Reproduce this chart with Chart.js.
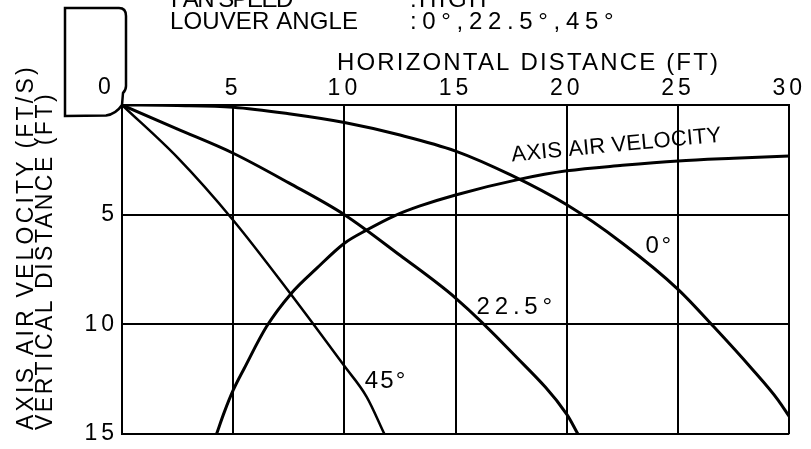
<!DOCTYPE html>
<html lang="en">
<head>
<meta charset="UTF-8">
<title>Louver angle air throw</title>
<script src="https://cdn.jsdelivr.net/npm/chart.js"></script>
<style>
  body { margin: 0; background: #fff; }
  #wrap { width: 811px; height: 449px; position: relative; }
</style>
</head>
<body>
<div id="wrap"><canvas id="myChart"></canvas></div>
<script>
// horizontal distance (ft) -> vertical drop (ft), one pair per louver angle
const dist0 = [0, 2.5, 5, 7.5, 10, 12.5, 15, 17.5, 20, 22.5, 25, 26.6, 28.3, 29.5, 30];
const drop0 = [0, 0.02, 0.1, 0.4, 0.8, 1.37, 2.1, 3.2, 4.55, 6.3, 8.4, 10.1, 12.0, 13.45, 14.2];
const dist22 = [0, 2.5, 5, 7.5, 10, 12.5, 15, 17.5, 20, 20.5];
const drop22 = [0, 1.1, 2.2, 3.55, 5.0, 6.85, 8.8, 11.25, 14.1, 15];
const dist45 = [0, 2.5, 5, 7.5, 10, 11, 11.8];
const drop45 = [0, 2.4, 5.25, 8.5, 11.9, 13.3, 15];
// axis air velocity (ft/s) against horizontal distance (ft)
const velDist = [4.25, 4.6, 5, 5.5, 6.5, 7.6, 8.75, 10, 11, 12.25, 13.4, 15, 17.9, 20, 22.5, 25, 27.5, 30];
const velocity = [15, 14, 13, 12, 10.1, 8.6, 7.45, 6.3, 5.7, 5.05, 4.6, 4.1, 3.38, 3.0, 2.75, 2.55, 2.43, 2.33];

const xTickValues = [0, 5, 10, 15, 20, 25, 30];
const yTickValues = [0, 5, 10, 15];
const angleNames = ['0°', '22.5°', '45°'];
const velocityName = 'AXIS AIR VELOCITY';

// where the curve captions sit, in data units
const captionPos = [
    {x: 24.1, y: 6.37, w: 25},
    {x: 17.65, y: 9.12, w: 74},
    {x: 11.81, y: 12.5, w: 40}
];
const velocityCaptionPos = {x: 22.23, y: 1.76, w: 211, angle: -5.4};

const FONT = '"Liberation Sans", Arial, sans-serif';

function pts(xs, ys) {
    return xs.map((x, i) => ({x: x, y: ys[i]}));
}

// draw text so its ink spans exactly `width` px, starting at x
function fitText(ctx, text, x, y, width) {
    ctx.letterSpacing = '0px';
    const m = ctx.measureText(text);
    const ink = m.actualBoundingBoxRight + m.actualBoundingBoxLeft;
    const n = [...text].length;
    const sp = n > 1 ? (width - ink) / (n - 1) : 0;
    ctx.letterSpacing = sp + 'px';
    ctx.fillText(text, x + m.actualBoundingBoxLeft, y);
}

const decorations = {
    id: 'decorations',
    beforeLayout(chart) {
        chart.ctx.letterSpacing = '4px';
    },
    beforeDraw(chart) {
        chart.ctx.letterSpacing = '4px';
    },
    afterDraw(chart) {
        const ctx = chart.ctx;
        const xs = chart.scales.x;
        const ys = chart.scales.y;
        const ox = xs.getPixelForValue(0);
        const oy = ys.getPixelForValue(0);

        ctx.save();
        ctx.fillStyle = '#000';
        ctx.strokeStyle = '#000';
        ctx.textAlign = 'left';
        ctx.textBaseline = 'alphabetic';

        // header
        ctx.font = '24px ' + FONT;
        fitText(ctx, 'FAN SPEED', 172, 7, 121);
        fitText(ctx, ':HIGH', 412, 7, 73);
        fitText(ctx, 'LOUVER ANGLE', 171, 29, 186);
        fitText(ctx, ':0°,22.5°,45°', 412, 29, 201);
        fitText(ctx, 'HORIZONTAL DISTANCE (FT)', 338, 70, 379);

        // y titles, rotated
        ctx.font = '23px ' + FONT;
        ctx.save();
        ctx.translate(25, 430);
        ctx.rotate(-Math.PI / 2);
        fitText(ctx, 'AXIS AIR VELOCITY (FT/S)', 0, 8.2, 362);
        ctx.restore();
        ctx.save();
        ctx.translate(43.5, 430);
        ctx.rotate(-Math.PI / 2);
        fitText(ctx, 'VERTICAL DISTANCE (FT)', 0, 8.2, 335);
        ctx.restore();

        // fan outlet outline
        ctx.lineWidth = 2.5;
        ctx.beginPath();
        ctx.moveTo(ox - 57, oy - 97);
        ctx.lineTo(ox - 3, oy - 97);
        ctx.quadraticCurveTo(ox + 4, oy - 97, ox + 4, oy - 89);
        ctx.lineTo(ox + 4, oy - 19);
        ctx.quadraticCurveTo(ox + 4, oy - 15, ox + 1, oy - 12);
        ctx.lineTo(ox, oy);
        ctx.quadraticCurveTo(ox - 6, oy + 9, ox - 16, oy + 10.5);
        ctx.lineTo(ox - 57, oy + 11);
        ctx.closePath();
        ctx.stroke();

        // shared origin label
        ctx.font = '23px ' + FONT;
        ctx.letterSpacing = '0px';
        ctx.textAlign = 'center';
        ctx.fillText('0', ox - 17.5, oy - 11);
        ctx.textAlign = 'left';

        // captions on the curves
        ctx.font = '24px ' + FONT;
        angleNames.forEach((name, i) => {
            const p = captionPos[i];
            const cx = xs.getPixelForValue(p.x);
            const cy = ys.getPixelForValue(p.y);
            fitText(ctx, name, cx - p.w / 2, cy + 8.6, p.w);
        });

        ctx.font = '22px ' + FONT;
        const v = velocityCaptionPos;
        ctx.save();
        ctx.translate(xs.getPixelForValue(v.x), ys.getPixelForValue(v.y));
        ctx.rotate(v.angle * Math.PI / 180);
        fitText(ctx, velocityName, -v.w / 2, 7.9, v.w);
        ctx.restore();

        ctx.restore();
        ctx.letterSpacing = '0px';
    }
};

const lineStyle = {
    borderColor: '#000',
    pointRadius: 0,
    fill: false,
    cubicInterpolationMode: 'monotone'
};

const data = {
    datasets: [
        Object.assign({label: angleNames[0], data: pts(dist0, drop0), borderWidth: 3}, lineStyle),
        Object.assign({label: angleNames[1], data: pts(dist22, drop22), borderWidth: 3}, lineStyle),
        Object.assign({label: angleNames[2], data: pts(dist45, drop45), borderWidth: 2.5}, lineStyle),
        Object.assign({label: velocityName, data: pts(velDist, velocity), borderWidth: 3}, lineStyle)
    ]
};

const config = {
    type: 'line',
    data: data,
    options: {
        responsive: true,
        maintainAspectRatio: false,
        animation: false,
        layout: {padding: {left: 0, top: 0, right: 21, bottom: 11}},
        plugins: {
            legend: false,
            tooltip: false
        },
        scales: {
            x: {
                type: 'linear',
                position: 'top',
                min: 0,
                max: 30,
                afterBuildTicks: s => { s.ticks = xTickValues.map(v => ({value: v})); },
                afterFit: s => { s.height = 105; },
                grid: {color: '#000', lineWidth: 2, drawTicks: false},
                border: {color: '#000', width: 2},
                ticks: {
                    color: '#000',
                    autoSkip: false,
                    maxRotation: 0,
                    padding: 5,
                    font: {family: FONT, size: 23, lineHeight: 1},
                    callback: v => v === 0 ? '' : v
                }
            },
            y: {
                type: 'linear',
                reverse: true,
                min: 0,
                max: 15,
                afterBuildTicks: s => { s.ticks = yTickValues.map(v => ({value: v})); },
                afterFit: s => { s.width = 122; },
                grid: {color: '#000', lineWidth: 2, drawTicks: false},
                border: {color: '#000', width: 2},
                ticks: {
                    color: '#000',
                    padding: 4,
                    font: {family: FONT, size: 23, lineHeight: 0.95},
                    callback: v => v === 0 ? '' : v
                }
            }
        }
    },
    plugins: [decorations]
};

const chart = new Chart(document.getElementById('myChart').getContext('2d'), config);
</script>
</body>
</html>
